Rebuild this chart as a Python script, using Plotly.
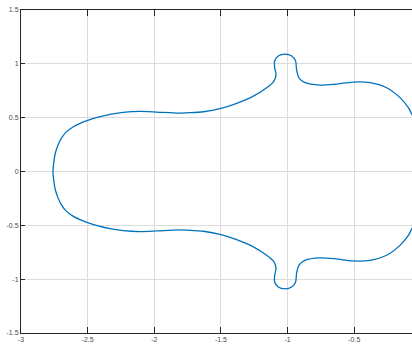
import plotly.graph_objects as go

# Upper half of the closed curve, read right -> left
upper_x = [-0.04, -0.067, -0.094, -0.157, -0.257, -0.382, -0.507, -0.657, -0.757, -0.87, -0.912,
           -0.932, -0.94, -0.969, -1.02, -1.07, -1.097, -1.097, -1.087, -1.102, -1.157,
           -1.257, -1.382, -1.5, -1.632, -1.732, -1.82, -1.982, -2.107, -2.233, -2.323,
           -2.422, -2.5, -2.548, -2.61, -2.66, -2.698, -2.722, -2.743, -2.755, -2.76]
upper_y = [0.47, 0.53, 0.593, 0.686, 0.778, 0.825, 0.831, 0.809, 0.803, 0.825, 0.865,
           0.94, 1.026, 1.073, 1.091, 1.073, 1.026, 0.965, 0.902, 0.84, 0.778,
           0.70, 0.633, 0.586, 0.555, 0.546, 0.542, 0.552, 0.558, 0.550, 0.533,
           0.505, 0.475, 0.452, 0.414, 0.368, 0.307, 0.245, 0.167, 0.074, 0.0]
# Lower half, read left -> right
lower_x = [-2.755, -2.743, -2.722, -2.698, -2.66, -2.61, -2.548, -2.5, -2.422, -2.323,
           -2.233, -2.107, -1.982, -1.82, -1.732, -1.632, -1.5, -1.382, -1.257, -1.157,
           -1.102, -1.087, -1.097, -1.097, -1.07, -1.02, -0.969, -0.94, -0.932, -0.912,
           -0.87, -0.757, -0.657, -0.507, -0.382, -0.257, -0.157, -0.094, -0.067, -0.04]
lower_y = [-0.074, -0.167, -0.245, -0.307, -0.368, -0.414, -0.452, -0.475, -0.505, -0.533,
           -0.550, -0.558, -0.552, -0.542, -0.546, -0.555, -0.586, -0.633, -0.70, -0.778,
           -0.84, -0.902, -0.965, -1.026, -1.073, -1.091, -1.073, -1.026, -0.94, -0.865,
           -0.825, -0.803, -0.809, -0.831, -0.825, -0.778, -0.686, -0.593, -0.53, -0.47]

x_ticks = [-3, -2.5, -2, -1.5, -1, -0.5, 0]
x_labels = ["-3", "-2.5", "-2", "-1.5", "-1", "-0.5", "0"]
y_ticks = [-1.5, -1, -0.5, 0, 0.5, 1, 1.5]
y_labels = ["-1.5", "-1", "-0.5", "0", "0.5", "1", "1.5"]

fig = go.Figure()
fig.add_trace(go.Scatter(
    x=upper_x + lower_x, y=upper_y + lower_y, mode="lines",
    line=dict(color="#0072BD", width=1.3, shape="spline", smoothing=0.7),
    hoverinfo="skip", showlegend=False))

tickfont = dict(family="Liberation Sans Narrow, Liberation Sans, Arial", size=7, color="#4d4d4d")
fig.update_layout(
    width=412, height=356,
    margin=dict(l=21, r=0, t=10, b=23),
    paper_bgcolor="white", plot_bgcolor="white",
    xaxis=dict(range=[-3, -3 + 391 / 133.3], tickvals=x_ticks, ticktext=x_labels,
               automargin=False,
               showgrid=True, gridcolor="#dcdcdc", gridwidth=1, zeroline=False,
               showline=True, linecolor="#262626", linewidth=1, mirror="ticks",
               ticks="inside", ticklen=6, tickcolor="#262626", tickfont=tickfont),
    yaxis=dict(range=[-1.5, 1.5], tickvals=y_ticks, ticktext=y_labels,
               automargin=False,
               showgrid=True, gridcolor="#dcdcdc", gridwidth=1, zeroline=False,
               showline=True, linecolor="#262626", linewidth=1, mirror=False,
               ticks="inside", ticklen=4, tickcolor="#262626", tickfont=tickfont),
)
fig.write_html("out.html", config={"displayModeBar": False},
               post_script="document.body.style.margin='0';document.body.style.overflow='hidden';")
